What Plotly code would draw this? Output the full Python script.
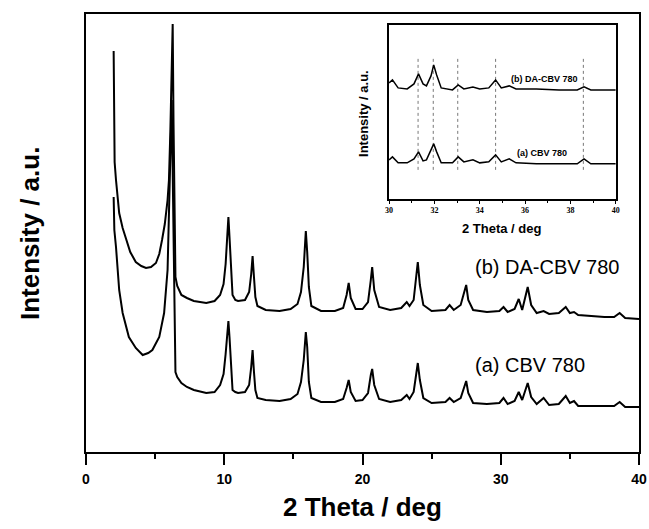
import plotly.graph_objects as go

# ---- main pattern data (2 Theta in deg, intensity in a.u.) ----
theta_b = [2.0, 2.03, 2.07, 2.17, 2.4, 2.65, 2.9, 3.2, 3.6, 4.0,
           4.34, 4.7, 5.06, 5.3, 5.5, 5.7, 5.9, 6.0, 6.1, 6.2,
           6.27, 6.33, 6.4, 6.47, 6.6, 6.9, 7.3, 7.8, 8.7, 9.3,
           9.7, 9.95, 10.1, 10.22, 10.3, 10.38, 10.48, 10.6, 10.8, 11.0,
           11.5, 11.8, 11.95, 12.05, 12.15, 12.25, 12.4, 13.0, 14.0, 14.8,
           15.3, 15.55, 15.75, 15.9, 16.0, 16.12, 16.3, 17.0, 18.0, 18.6,
           18.85, 19.0, 19.15, 19.5, 20.0, 20.4, 20.6, 20.7, 20.85, 21.2,
           22.0, 22.8, 23.2, 23.4, 23.7, 23.9, 24.0, 24.15, 24.4, 25.0,
           26.0, 26.3, 26.6, 27.1, 27.4, 27.5, 27.65, 28.0, 29.0, 29.9,
           30.2, 30.5, 31.0, 31.3, 31.55, 31.95, 32.2, 32.6, 33.1, 33.5,
           34.2, 34.7, 35.0, 35.3, 35.6, 36.5, 37.5, 38.2, 38.6, 39.0,
           40.0]
da_cbv780 = [401, 330, 290, 272, 239, 224, 212, 200, 190, 186,
             184, 185, 189, 198, 212, 228, 252, 272, 320, 395,
             428, 330, 230, 175, 166, 157, 154, 151, 149, 151,
             157, 168, 188, 215, 235, 215, 180, 157, 152, 151,
             152, 160, 178, 196, 175, 155, 146, 142, 141, 143,
             148, 160, 185, 221, 200, 165, 146, 141, 141, 144,
             157, 169, 154, 143, 143, 150, 172, 185, 162, 145,
             142, 144, 150, 146, 152, 177, 190, 167, 147, 141,
             142, 147, 142, 147, 162, 167, 152, 142, 140, 141,
             145, 140, 143, 153, 142, 165, 147, 139, 141, 138,
             139, 145, 139, 140, 137, 136, 135, 135, 139, 134,
             133]

theta_a = [2.0, 2.05, 2.17, 2.4, 2.65, 3.1, 3.6, 4.1, 4.5, 4.8,
           5.3, 5.65, 5.9, 6.0, 6.1, 6.2, 6.3, 6.4, 6.47, 6.6,
           6.9, 7.3, 7.8, 8.7, 9.3, 9.7, 9.95, 10.1, 10.22, 10.3,
           10.38, 10.48, 10.6, 10.8, 11.0, 11.5, 11.8, 11.95, 12.05, 12.15,
           12.25, 12.4, 13.0, 14.0, 14.8, 15.3, 15.55, 15.75, 15.9, 16.0,
           16.12, 16.3, 17.0, 18.0, 18.6, 18.85, 19.0, 19.15, 19.5, 20.0,
           20.4, 20.6, 20.7, 20.85, 21.2,
           22.0, 22.8, 23.2, 23.4, 23.7, 23.9, 24.0, 24.15, 24.4, 25.0,
           26.0, 26.3, 26.6, 27.1, 27.4, 27.5, 27.65, 28.0, 29.0, 29.9,
           30.2, 30.5, 31.0, 31.3, 31.55, 31.95, 32.2, 32.6, 33.1, 33.5,
           34.2, 34.7, 35.0, 35.3, 35.6, 36.5, 37.5, 38.2, 38.6, 39.0,
           40.0]
cbv780 = [255, 222, 205, 162, 139, 115, 104, 97, 99, 102,
          115, 139, 182, 232, 290, 352, 250, 120, 80, 75,
          69, 65, 62, 59, 60, 67, 78, 98, 120, 131,
          115, 85, 62, 60, 59, 60, 67, 85, 102, 80,
          62, 54, 52, 51, 53, 58, 70, 92, 120, 105,
          70, 54, 50, 50, 53, 64, 72, 60, 51, 52,
          59, 77, 83, 67, 53,
          50, 52, 57, 53, 60, 82, 89, 72, 54, 49,
          50, 54, 50, 54, 67, 71, 59, 49, 48, 49,
          54, 48, 51, 60, 52, 69, 55, 48, 54, 47,
          48, 56, 49, 51, 46, 46, 46, 46, 50, 45,
          45]

# ---- inset data (30-40 deg) ----
inset_theta = [30.0, 30.15, 30.4, 30.8, 31.1, 31.3, 31.5, 31.65, 31.85, 31.97, 32.1, 32.3, 32.8, 33.05, 33.3,
               33.7, 34.0, 34.4, 34.7, 34.95, 35.3, 35.6, 36.5, 37.5, 38.3, 38.6, 38.9, 40.0]
inset_b = [116, 119, 111, 110, 115, 125, 115, 113, 123, 134, 124, 111, 109, 114, 110,
           112, 110, 111, 119, 111, 113, 110, 110, 109, 109, 112, 109, 109]
inset_a = [39, 42, 36, 36, 40, 47, 38, 39, 49, 55, 47, 36, 36, 42, 37,
           39, 36, 37, 44, 37, 40, 36, 35, 35, 35, 40, 35, 35]
ref_lines = [31.28, 31.95, 33.03, 34.7, 38.57]

main_labels = ["(b) DA-CBV 780", "(a) CBV 780"]
x_title = "2 Theta / deg"
y_title = "Intensity / a.u."

SANS = "Liberation Sans, Arial, sans-serif"
SERIF = "Liberation Serif, Times New Roman, serif"

fig = go.Figure()
fig.add_trace(go.Scatter(x=theta_b, y=da_cbv780, mode="lines", line=dict(color="black", width=2), showlegend=False))
fig.add_trace(go.Scatter(x=theta_a, y=cbv780, mode="lines", line=dict(color="black", width=2), showlegend=False))
fig.add_trace(go.Scatter(x=inset_theta, y=inset_b, mode="lines", line=dict(color="black", width=1.5),
                         xaxis="x2", yaxis="y2", showlegend=False))
fig.add_trace(go.Scatter(x=inset_theta, y=inset_a, mode="lines", line=dict(color="black", width=1.5),
                         xaxis="x2", yaxis="y2", showlegend=False))

shapes = []
for p in ref_lines:
    shapes.append(dict(type="line", xref="x2", yref="y2", x0=p, x1=p, y0=29, y1=141,
                       line=dict(color="#777777", width=1, dash="dot"), layer="below"))

annotations = [
    dict(x=28.0, y=185, xref="x", yref="y", text=main_labels[0], showarrow=False,
         xanchor="left", yanchor="middle", font=dict(family=SANS, size=20, color="black")),
    dict(x=28.0, y=87, xref="x", yref="y", text=main_labels[1], showarrow=False,
         xanchor="left", yanchor="middle", font=dict(family=SANS, size=20, color="black")),
    dict(x=36.84, y=120, xref="x2", yref="y2", text=main_labels[0], showarrow=False,
         xanchor="center", yanchor="middle", font=dict(family=SANS, size=9, color="black", weight="bold")),
    dict(x=36.76, y=46, xref="x2", yref="y2", text=main_labels[1], showarrow=False,
         xanchor="center", yanchor="middle", font=dict(family=SANS, size=9, color="black", weight="bold")),
    dict(x=0.5, y=-0.1256, xref="paper", yref="paper", text=x_title, showarrow=False,
         xanchor="center", yanchor="middle", font=dict(family=SANS, size=26, color="black", weight="bold")),
    dict(x=-0.1013, y=0.5, xref="paper", yref="paper", text=y_title, showarrow=False, textangle=-90,
         xanchor="center", yanchor="middle", font=dict(family=SANS, size=26, color="black", weight="bold")),
    dict(x=0.7517, y=0.5114, xref="paper", yref="paper", text=x_title, showarrow=False,
         xanchor="center", yanchor="middle", font=dict(family=SANS, size=13, color="black", weight="bold")),
    dict(x=0.5027, y=0.774, xref="paper", yref="paper", text=y_title, showarrow=False, textangle=-90,
         xanchor="center", yanchor="middle", font=dict(family=SANS, size=13, color="black", weight="bold")),
]

fig.update_layout(
    template="none",
    width=649, height=529, autosize=False,
    margin=dict(l=86, r=10, t=14, b=77, pad=0),
    paper_bgcolor="white", plot_bgcolor="white",
    shapes=shapes, annotations=annotations,
    xaxis=dict(range=[0, 40], showline=True, linewidth=2, linecolor="black", mirror=True,
               ticks="outside", ticklen=11, tickwidth=1.5, tickcolor="black", ticklabelstandoff=2,
               tickvals=[0, 10, 20, 30, 40], automargin=False,
               minor=dict(tickvals=[5, 15, 25, 35], ticks="outside", ticklen=5, tickwidth=1.5, tickcolor="black"),
               tickfont=dict(family=SANS, size=14, color="black", weight="bold"),
               showgrid=False, zeroline=False),
    yaxis=dict(range=[0, 438], showline=True, linewidth=2, linecolor="black", mirror=True, automargin=False,
               ticks="", showticklabels=False, showgrid=False, zeroline=False),
    xaxis2=dict(domain=[0.548, 0.958], anchor="y2", range=[30, 40], showline=True, linewidth=1.5,
                linecolor="black", mirror=True, ticks="outside", ticklen=3, tickwidth=1, tickcolor="black",
                tickvals=[30, 32, 34, 36, 38, 40], automargin=False,
                minor=dict(tickvals=[31, 33, 35, 37, 39], ticks="outside", ticklen=2, tickwidth=1, tickcolor="black"),
                tickfont=dict(family=SERIF, size=8, color="black", weight="bold"),
                showgrid=False, zeroline=False),
    yaxis2=dict(domain=[0.578, 0.975], anchor="x2", range=[0, 174], showline=True, linewidth=1.5, automargin=False,
                linecolor="black", mirror=True, ticks="", showticklabels=False, showgrid=False, zeroline=False),
)

# remove the browser's default 8px page margin so the figure fills the window exactly
fig.write_html("out.html", config={"displayModeBar": False},
               post_script="document.body.style.margin='0';document.body.style.overflow='hidden';")
